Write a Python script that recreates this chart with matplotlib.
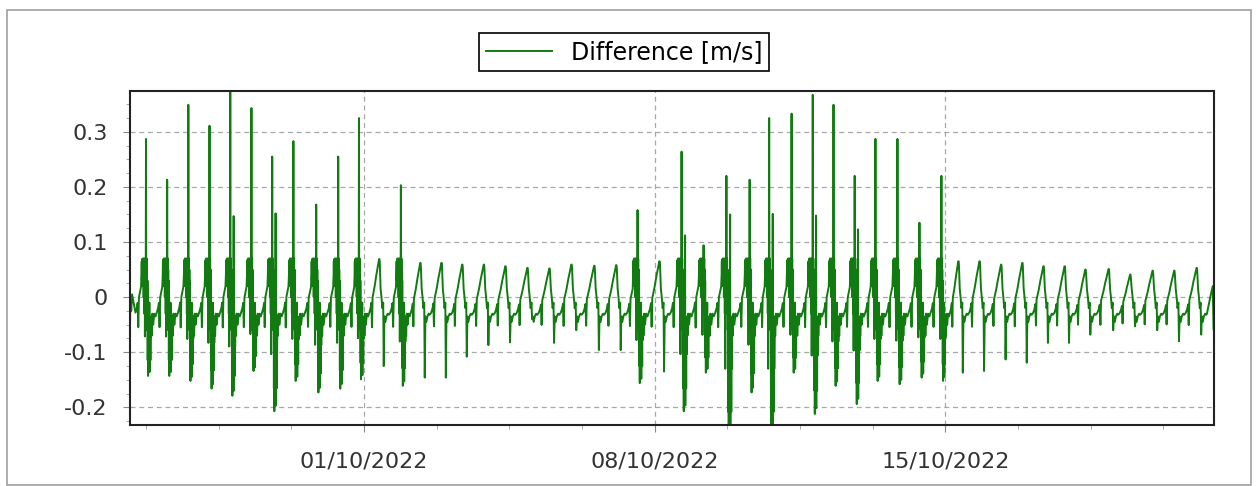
#!/usr/bin/env python3
import datetime as dt
import matplotlib
matplotlib.use('Agg')
import matplotlib.pyplot as plt
import matplotlib.dates as mdates
from matplotlib.ticker import FixedLocator, MultipleLocator, FuncFormatter
from matplotlib.patches import Rectangle

# one entry per tidal cycle (days after 01/10/2022 00:00)
peak_day = [-5.26, -4.75, -4.24, -3.73, -3.23, -2.72, -2.22, -1.71, -1.16, -0.63,
            -0.13, 0.36, 0.88, 1.35, 1.86, 2.36, 2.88, 3.40, 3.93, 4.46,
            4.99, 5.54, 6.07, 6.58, 7.11, 7.64, 8.17, 8.72, 9.28, 9.75,
            10.29, 10.80, 11.30, 11.81, 12.31, 12.84, 13.37, 13.90, 14.31, 14.82,
            15.34, 15.85, 16.36, 16.87, 17.37, 17.93, 18.45, 18.99, 19.51, 20.05]
peak_val = [0.068, 0.068, 0.070, 0.068, 0.070, 0.068, 0.068, 0.070, 0.066, 0.066,
            0.066, 0.069, 0.066, 0.062, 0.062, 0.059, 0.059, 0.056, 0.053, 0.052,
            0.059, 0.057, 0.058, 0.060, 0.065, 0.068, 0.071, 0.068, 0.066, 0.068,
            0.066, 0.068, 0.068, 0.066, 0.066, 0.068, 0.066, 0.066, 0.065, 0.065,
            0.059, 0.062, 0.056, 0.056, 0.050, 0.051, 0.041, 0.048, 0.048, 0.053]
spike_val = [0.287, 0.213, 0.349, 0.311, 0.390, 0.343, 0.255, 0.283, 0.168, 0.255,
             0.325, 0.069, 0.203, 0.062, 0.062, 0.059, 0.059, 0.056, 0.053, 0.052,
             0.059, 0.057, 0.058, 0.158, 0.065, 0.264, 0.094, 0.220, 0.213, 0.325,
             0.333, 0.367, 0.349, 0.220, 0.287, 0.287, 0.135, 0.220, 0.065, 0.065,
             0.059, 0.062, 0.056, 0.056, 0.050, 0.051, 0.041, 0.048, 0.048, 0.053]
spike2_val = [0, 0, 0, 0, 0.147, 0, 0.152, 0, 0, 0,
              0, 0, 0, 0, 0, 0, 0, 0, 0, 0,
              0, 0, 0, 0, 0, 0.112, 0, 0.150, 0, 0.151,
              0, 0.148, 0, 0.123, 0, 0, 0, 0, 0, 0,
              0, 0, 0, 0, 0, 0, 0, 0, 0, 0]
trough_val = [-0.143, -0.143, -0.152, -0.166, -0.179, -0.134, -0.207, -0.152, -0.173, -0.166,
              -0.149, -0.125, -0.161, -0.146, -0.146, -0.108, -0.087, -0.082, -0.040, -0.083,
              -0.060, -0.096, -0.096, -0.156, -0.135, -0.207, -0.137, -0.260, -0.173, -0.260,
              -0.137, -0.212, -0.161, -0.194, -0.152, -0.158, -0.146, -0.152, -0.137, -0.134,
              -0.113, -0.119, -0.083, -0.083, -0.068, -0.060, -0.053, -0.060, -0.080, -0.068]
lead_day = [-5.64, -5.63, -5.61, -5.59]
lead_val = [-0.054, 0.0, -0.025, 0.005]
tail_day = [20.30, 20.38, 20.44, 20.465, 20.47]
tail_val = [-0.03, 0.0, 0.02, -0.06, 0.05]

# shape of one cycle between the points read above
rise_shape = [(-0.48, 0.02), (-0.42, 0.10), (-0.38, 0.20), (-0.35, -0.25), (-0.32, 0.30),
              (-0.26, 0.42), (-0.22, 0.50), (-0.18, 0.60), (-0.14, 0.70), (-0.10, 0.78),
              (-0.07, 0.85), (-0.04, 0.92), (-0.02, 0.96)]
calm_fall = [(0.015, 'S'), (0.03, 'P'), (0.07, 0.015), (0.11, 0.0), (0.15, -0.02),
             (0.19, -0.01), (0.215, 'L'), (0.245, -0.035), (0.29, -0.045), (0.34, -0.035),
             (0.40, -0.03), (0.45, -0.032)]
busy_top = [(-0.20, 0.04), (-0.19, 0.065), (-0.18, 0.03), (-0.17, 0.068), (-0.16, 0.045),
            (-0.15, 0.07), (-0.14, 0.02), (-0.13, 0.068), (-0.12, 0.04), (-0.11, 0.07),
            (-0.10, 0.0), (-0.09, 0.066), (-0.08, 0.03), (-0.07, 0.07), (-0.06, -0.03),
            (-0.05, 0.068), (-0.04, 'L5'), (-0.03, 0.07), (-0.02, -0.01), (-0.01, 0.066)]
busy_fall = [(0.01, 'S'), (0.02, 0.065), (0.03, 0.02), (0.04, 0.07), (0.05, -0.03),
             (0.06, 0.05), (0.07, -0.06), (0.08, 0.03), (0.09, 'L8'), (0.10, -0.01),
             (0.11, 'L'), (0.12, -0.04), (0.13, 'L9'), (0.14, -0.03), (0.15, 'L8'),
             (0.16, -0.05), (0.17, 'S2'), (0.18, 'L9'), (0.19, -0.04), (0.20, 'L7'),
             (0.21, -0.05), (0.22, 'L8'), (0.23, -0.04), (0.24, 'L5'), (0.26, -0.035),
             (0.28, -0.07), (0.31, -0.03), (0.35, -0.05), (0.40, -0.03), (0.46, -0.035)]
lo_scale = {'L': 1.0, 'L9': 0.95, 'L8': 0.8, 'L7': 0.7, 'L5': 0.5}

days = list(lead_day)
vals = list(lead_val)
n = len(peak_day)
for k in range(n):
    p, s, s2, lo = peak_val[k], spike_val[k], spike2_val[k], trough_val[k]
    busy = s > 0.09
    before = peak_day[k] - peak_day[k - 1] if k > 0 else 0.5165
    after = peak_day[k + 1] - peak_day[k] if k < n - 1 else 0.5165
    pts = []
    for f, r in rise_shape:
        if busy and f > -0.21:
            continue
        pts.append((f * before, -0.03 + (p + 0.03) * r))
    if busy:
        pts += [(f * before, v) for f, v in busy_top]
    pts.append((0.0, p))
    pts += [(f * after, v) for f, v in (busy_fall if busy else calm_fall)]
    for off, v in pts:
        if v == 'S':
            v = s
        elif v == 'P':
            v = p - 0.005
        elif v == 'S2':
            v = s2 if s2 else -0.01
        elif isinstance(v, str):
            v = lo_scale[v] * lo
        days.append(peak_day[k] + off)
        vals.append(v)
days += tail_day
vals += tail_val

base = dt.datetime(2022, 10, 1)
x = [mdates.date2num(base + dt.timedelta(days=d)) for d in days]

plt.rcParams['axes.unicode_minus'] = False
fig = plt.figure(figsize=(12.57, 4.86), dpi=100)
fig.patches.append(Rectangle((7 / 1257, 1 - 485 / 486), 1244 / 1257, 475 / 486,
                             transform=fig.transFigure, fill=False,
                             edgecolor='#a0a0a0', linewidth=1.2))
ax = fig.add_axes([130 / 1257, 1 - 425 / 486, 1084 / 1257, 334 / 486])
ax.plot(x, vals, color='#117a11', linewidth=1.4, label='Difference [m/s]')

x0 = mdates.date2num(base + dt.timedelta(days=-5.64))
x1 = mdates.date2num(base + dt.timedelta(days=20.47))
ax.set_xlim(x0, x1)
ax.set_ylim(-0.232, 0.374)

week = [mdates.date2num(base + dt.timedelta(days=d)) for d in (0, 7, 14)]
ax.xaxis.set_major_locator(FixedLocator(week))
ax.xaxis.set_major_formatter(mdates.DateFormatter('%d/%m/%Y'))
minor = [mdates.date2num(base + dt.timedelta(days=-7 + 1.75 * i)) for i in range(17)]
ax.xaxis.set_minor_locator(FixedLocator(minor))
ax.yaxis.set_major_locator(MultipleLocator(0.1))
ax.yaxis.set_minor_locator(MultipleLocator(0.025))
ax.yaxis.set_major_formatter(FuncFormatter(lambda v, _: f'{round(v, 2):g}'))

ax.tick_params(which='major', direction='out', length=5, color='#888888',
               labelsize=16, labelcolor='#333333')
ax.tick_params(axis='x', which='major', pad=14)
ax.tick_params(axis='y', which='major', pad=11)
ax.tick_params(which='minor', direction='out', length=3, color='#999999')
ax.grid(True, which='major', color='#a8a8a8', linestyle=(0, (4, 3)), linewidth=0.9)
for side in ax.spines.values():
    side.set_linewidth(1.5)
    side.set_color('#222222')

leg = fig.legend(loc='center', bbox_to_anchor=(624 / 1257, 1 - 52 / 486), fontsize=17,
                 frameon=True, fancybox=False, edgecolor='black', framealpha=1,
                 handlelength=2.8, borderpad=0.3, handletextpad=0.8)
leg.get_frame().set_linewidth(1.2)

plt.savefig('out.png', dpi=100)
